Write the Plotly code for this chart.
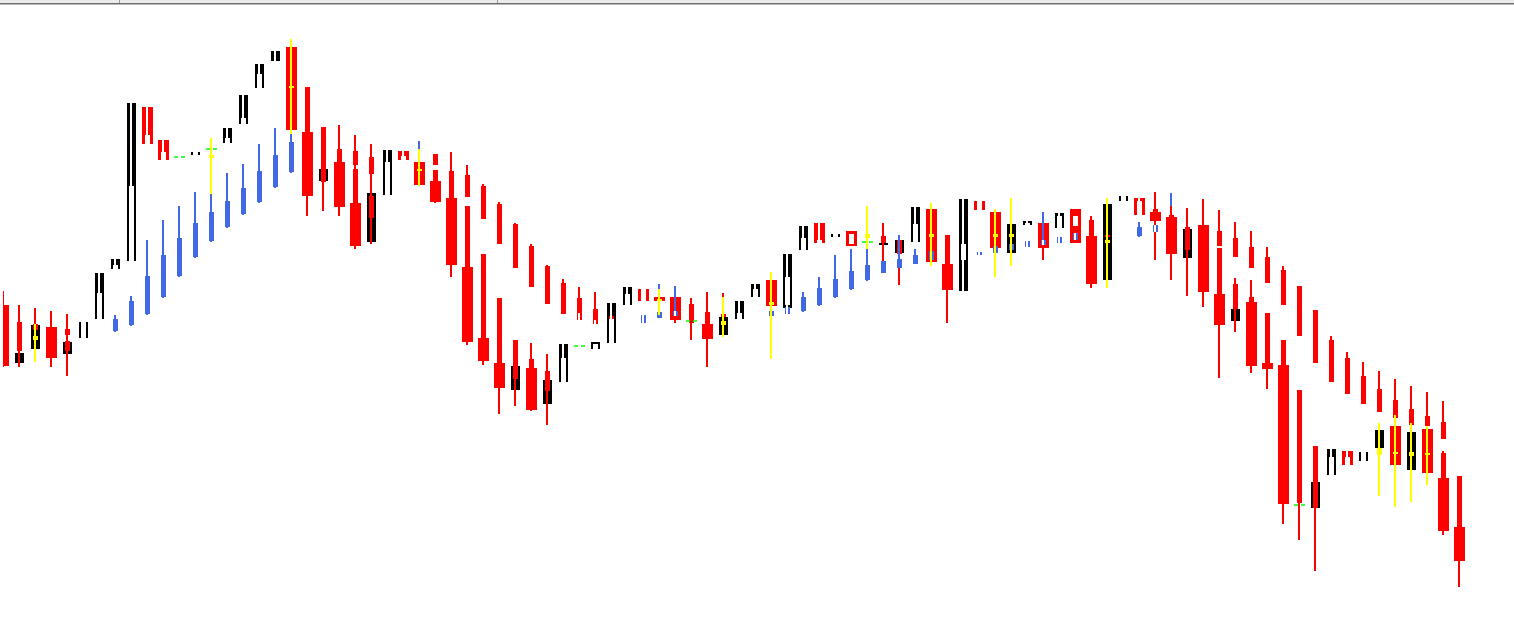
import plotly.graph_objects as go

# ---------------- data (price points; bar index = session number) ----------------
# wide black bodies (no wicks)
black_idx = [1, 2, 4, 5, 6, 7, 8, 12, 14, 15, 16, 17,
             20, 23, 24, 32, 34, 35, 37, 38, 39,
             45, 46, 47, 49, 50, 52, 55, 56, 57,
             60, 63, 64, 66, 69, 70, 74, 77,
             82, 83, 85, 86, 88]
black_top = [647, 675, 658, 678, 727, 741, 897, 848, 872, 905, 936, 949,
             831, 807, 850, 634, 620, 656, 658, 697, 713,
             683, 699, 716, 746, 774, 766, 757, 760, 793,
             801, 776, 779, 787, 796, 804, 771, 691,
             518, 551, 548, 570, 568]
black_bot = [637, 651, 646, 662, 681, 731, 739, 845, 857, 876, 912, 939,
             819, 758, 805, 610, 596, 618, 651, 657, 695,
             665, 681, 703, 692, 750, 763, 755, 747, 758,
             709, 747, 775, 772, 720, 799, 742, 679,
             492, 525, 539, 552, 530]

# wide red candles
rw_idx = [0, 3, 9, 10, 18, 19, 21, 22, 25, 26,
          27, 28, 29, 30, 31, 33, 40, 41, 42, 44,
          48, 51, 53, 58, 59, 61, 62, 65, 67, 68,
          71, 72, 73, 75, 76, 78, 79, 80, 84, 87,
          89, 90, 91]
rw_high = [709, 689, 893, 860, 953, 868, 838, 797, 849, 838,
           819, 802, 733, 662, 637, 632, 711, 703, 703, 676,
           720, 777, 769, 791, 736, 799, 788, 780, 791, 764,
           802, 788, 783, 801, 706, 698, 637, 635, 549, 574,
           571, 522, 473]
rw_open = [695, 673, 893, 860, 953, 868, 838, 797, 849, 838,
           819, 802, 733, 662, 637, 632, 711, 703, 703, 676,
           720, 777, 769, 791, 736, 799, 788, 777, 791, 764,
           802, 788, 783, 775, 706, 698, 637, 635, 549, 574,
           571, 522, 473]
rw_close = [634, 642, 856, 840, 870, 804, 793, 754, 840, 815,
            798, 735, 658, 639, 612, 590, 699, 699, 680, 661,
            694, 757, 754, 738, 710, 790, 752, 752, 757, 716,
            785, 779, 746, 708, 675, 634, 631, 496, 535, 535,
            527, 469, 439]
rw_low = [633, 633, 856, 840, 870, 784, 784, 751, 840, 815,
          797, 723, 655, 635, 586, 589, 699, 699, 677, 633,
          694, 757, 754, 738, 677, 790, 752, 740, 757, 712,
          785, 779, 720, 693, 622, 627, 611, 476, 535, 535,
          527, 465, 413]

# narrow red candles
rn_idx = [1, 2, 4, 4, 19, 20, 21, 22, 22, 23,
          23, 27, 27, 28, 29, 29, 30, 30, 31, 31,
          32, 32, 33, 33, 34, 34, 35, 36, 37, 38,
          43, 44, 45, 55, 56, 59, 68, 69, 72, 73,
          74, 76, 76, 77, 77, 78, 78, 79, 79, 80,
          80, 81, 81, 82, 82, 83, 84, 85, 86, 87,
          88, 89, 90, 90, 91]
rn_high = [695, 692, 686, 659, 913, 873, 875, 865, 831, 856,
           804, 846, 830, 848, 835, 794, 816, 746, 798, 702,
           777, 660, 756, 657, 735, 646, 721, 713, 708, 684,
           702, 708, 707, 777, 764, 765, 784, 765, 808, 794,
           792, 790, 752, 778, 722, 769, 720, 753, 687, 734,
           660, 714, 610, 690, 554, 664, 648, 638, 629, 621,
           614, 608, 599, 549, 524]
rn_open = [678, 676, 671, 659, 913, 873, 851, 849, 831, 843,
           804, 846, 830, 829, 825, 794, 814, 746, 796, 702,
           776, 660, 754, 641, 734, 629, 717, 702, 691, 684,
           696, 688, 686, 764, 760, 765, 780, 765, 791, 785,
           773, 769, 752, 762, 716, 753, 703, 743, 687, 730,
           660, 714, 610, 690, 554, 660, 642, 624, 611, 600,
           591, 584, 578, 547, 524]
rn_close = [649, 670, 665, 649, 868, 818, 838, 835, 797, 826,
            782, 835, 819, 802, 803, 733, 781, 662, 756, 637,
            732, 621, 713, 632, 696, 609, 686, 680, 676, 681,
            677, 676, 683, 757, 746, 736, 764, 763, 788, 783,
            750, 754, 706, 743, 691, 732, 698, 717, 637, 695,
            635, 664, 497, 637, 492, 618, 606, 596, 588, 582,
            575, 574, 561, 522, 473]
rn_low = [633, 670, 659, 624, 868, 789, 838, 831, 797, 804,
          756, 835, 819, 802, 803, 733, 781, 662, 756, 637,
          732, 594, 713, 632, 696, 575, 686, 680, 676, 681,
          660, 676, 683, 735, 715, 736, 764, 763, 740, 783,
          704, 754, 706, 743, 668, 732, 698, 717, 637, 695,
          635, 664, 460, 637, 429, 618, 606, 596, 588, 582,
          575, 574, 561, 522, 473]

# narrow blue candles
bl_idx = [7, 8, 9, 10, 11, 12, 13, 14, 15, 16,
          17, 18, 26, 40, 41, 42, 48, 49, 50, 51,
          52, 53, 54, 55, 56, 57, 58, 61, 62, 63,
          64, 65, 66, 67, 71, 72, 73]
bl_high = [685, 704, 760, 780, 794, 808, 806, 827, 836, 856,
           872, 866, 859, 685, 716, 714, 689, 693, 708, 723,
           745, 751, 751, 739, 765, 751, 749, 748, 754, 756,
           759, 788, 763, 767, 778, 775, 807]
bl_open = [681, 699, 724, 745, 762, 777, 788, 799, 812, 829,
           845, 858, 851, 685, 688, 689, 689, 693, 703, 712,
           721, 729, 735, 739, 741, 745, 749, 748, 754, 756,
           759, 760, 763, 767, 773, 775, 794]
bl_close = [669, 675, 686, 703, 724, 743, 759, 773, 786, 798,
            813, 828, 851, 677, 682, 684, 684, 686, 689, 695,
            703, 711, 720, 727, 732, 736, 740, 745, 747, 750,
            753, 755, 757, 760, 764, 768, 794]
bl_low = [668, 674, 685, 702, 723, 742, 758, 772, 785, 797,
          812, 827, 851, 677, 682, 684, 684, 686, 688, 694,
          702, 710, 719, 727, 732, 736, 740, 745, 747, 750,
          753, 755, 757, 760, 763, 768, 794]
# blue candles drawn hollow (split by a white centre line)
bl_hollow = [40, 42, 48, 49, 58, 61, 62, 63, 64, 65, 66, 67, 72]

# narrow white candles (drawn over the black / red ones)
wn_idx = [5, 6, 7, 8, 9, 10, 12, 14, 15, 16,
          17, 24, 25, 35, 36, 37, 37, 38, 39, 40,
          46, 47, 49, 50, 51, 52, 53, 57, 60, 61,
          64, 66, 67, 70, 71, 83, 84, 85]
wn_high = [678, 727, 741, 897, 893, 860, 848, 872, 905, 936,
           949, 850, 849, 656, 687, 680, 656, 697, 713, 711,
           699, 716, 746, 774, 777, 766, 766, 793, 801, 799,
           779, 787, 784, 804, 802, 551, 549, 548]
wn_open = [678, 707, 735, 814, 865, 848, 848, 862, 882, 926,
           939, 838, 844, 642, 680, 676, 656, 681, 706, 711,
           687, 711, 723, 762, 760, 766, 766, 776, 756, 799,
           777, 784, 784, 804, 799, 543, 543, 548]
wn_close = [662, 681, 731, 739, 856, 840, 845, 857, 876, 912,
            939, 805, 840, 618, 680, 676, 651, 657, 695, 699,
            681, 703, 695, 750, 757, 763, 756, 758, 740, 790,
            775, 772, 774, 799, 785, 525, 535, 539]
wn_low = [662, 681, 731, 739, 856, 840, 845, 857, 876, 912,
          939, 805, 840, 618, 680, 676, 651, 657, 695, 699,
          681, 703, 692, 750, 757, 763, 756, 758, 709, 790,
          775, 772, 774, 799, 785, 525, 535, 539]

# narrow yellow candles
yl_idx = [2, 13, 18, 26, 41, 45, 48, 54, 58, 62, 63, 69, 86, 87, 88, 89]
yl_high = [676, 862, 961, 851, 711, 703, 728, 794, 797, 791, 802, 802, 577, 585, 577, 574]
yl_open = [664, 845, 914, 831, 701, 679, 698, 766, 766, 766, 766, 760, 552, 548, 548, 547]
yl_close = [660, 842, 912, 829, 699, 675, 695, 762, 763, 763, 763, 757, 545, 546, 544, 545]
yl_low = [638, 806, 866, 814, 685, 663, 641, 751, 734, 723, 734, 712, 504, 493, 498, 515]

# green level ticks
gr_idx = [11, 13, 36, 43, 54, 81]
gr_level = [843, 851, 654, 679, 758, 495]

# ---------------- styling ----------------
SLOT = 16.0                      # pixels per bar slot
W_RED = 11 / SLOT
W_BLACK = 9 / SLOT
W_NARROW = 5 / SLOT
W_WICK = 2 / SLOT
WICK_OFF = -1.5 / SLOT

RED = "#FF0000"
BLACK = "#000000"
BLUE = "#4169E1"
WHITE = "#FFFFFF"
YELLOW = "#FFFF00"
GREEN = "#00FF00"

fig = go.Figure()


def add_rects(idx, hi, lo, width, color, offset=None):
    xs, bases, hs = [], [], []
    for i, a, b in zip(idx, hi, lo):
        top, bot = max(a, b), min(a, b)
        if top - bot <= 0:
            continue
        xs.append(i)
        bases.append(bot)
        hs.append(top - bot)
    if not xs:
        return
    kw = dict(x=xs, y=hs, base=bases, width=width,
              marker=dict(color=color, line=dict(width=0)),
              hoverinfo="skip", showlegend=False)
    if offset is not None:
        kw["offset"] = offset
    fig.add_trace(go.Bar(**kw))


def add_candles(idx, high, opn, close, low, body_w, color, wick=True):
    if wick:
        add_rects(idx, high, low, W_WICK, color, WICK_OFF)
    add_rects(idx, opn, close, body_w, color)


# layer order: black, wide red, narrow red, blue, white, yellow, green
add_rects(black_idx, black_top, black_bot, W_BLACK, BLACK)
add_candles(rw_idx, rw_high, rw_open, rw_close, rw_low, W_RED, RED)
add_candles(rn_idx, rn_high, rn_open, rn_close, rn_low, W_NARROW, RED)
add_candles(bl_idx, bl_high, bl_open, bl_close, bl_low, W_NARROW, BLUE)
add_candles(wn_idx, wn_high, wn_open, wn_close, wn_low, W_NARROW, WHITE)

hol_i, hol_t, hol_b = [], [], []
for i, o, c in zip(bl_idx, bl_open, bl_close):
    if i in bl_hollow:
        hol_i.append(i)
        hol_t.append(o)
        hol_b.append(c)
add_rects(hol_i, hol_t, hol_b, W_WICK, WHITE, WICK_OFF)

add_candles(yl_idx, yl_high, yl_open, yl_close, yl_low, W_NARROW, YELLOW)

gx, gy = [], []
half = W_RED / 2
for i, lv in zip(gr_idx, gr_level):
    gx += [i - half, i + half, None]
    gy += [lv, lv, None]
fig.add_trace(go.Scatter(x=gx, y=gy, mode="lines",
                         line=dict(color=GREEN, width=1.5, dash="4px,3px"),
                         hoverinfo="skip", showlegend=False))

W, H = 1514, 633
x0 = -3.5 / SLOT
x1 = x0 + W / SLOT
fig.update_layout(
    width=W, height=H,
    margin=dict(l=0, r=0, t=0, b=0),
    paper_bgcolor="white", plot_bgcolor="white",
    barmode="overlay", showlegend=False,
    xaxis=dict(range=[x0, x1], visible=False, fixedrange=True),
    yaxis=dict(range=[1000 - H, 1000], visible=False, fixedrange=True),
)


def py(p):
    return 1 - p / H


# left border of the chart window (clips the first candle)
fig.add_shape(type="rect", xref="paper", yref="paper", x0=0, x1=3 / W, y0=0, y1=1,
              fillcolor="white", line=dict(width=0), layer="above")
# window toolbar strip at the very top
fig.add_shape(type="rect", xref="paper", yref="paper", x0=0, x1=1, y0=py(3), y1=1,
              fillcolor="#EBEBEB", line=dict(width=0), layer="above")
fig.add_shape(type="line", xref="paper", yref="paper", x0=0, x1=1, y0=py(3.5), y1=py(3.5),
              line=dict(color="#6E6E6E", width=1), layer="above")
fig.add_shape(type="line", xref="paper", yref="paper", x0=0, x1=1, y0=py(4.5), y1=py(4.5),
              line=dict(color="#B9B9B9", width=1), layer="above")
for sx in (119.5, 497.5):
    fig.add_shape(type="line", xref="paper", yref="paper", x0=sx / W, x1=sx / W, y0=py(3), y1=1,
                  line=dict(color="#9A9A9A", width=1), layer="above")

fig.write_html("out.html", config={"displayModeBar": False},
               post_script="document.body.style.margin='0';document.body.style.overflow='hidden';")
